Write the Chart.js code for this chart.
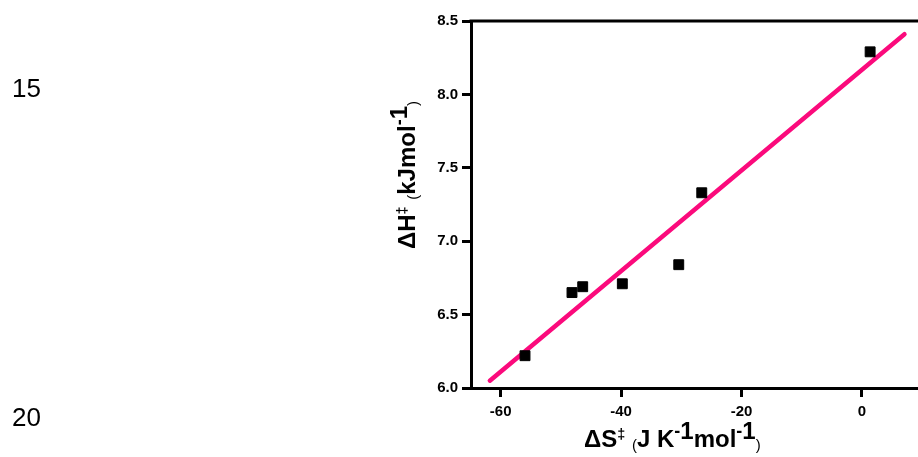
<!DOCTYPE html>
<html>
<head>
<meta charset="utf-8">
<script src="https://cdn.jsdelivr.net/npm/chart.js@4/dist/chart.umd.min.js"></script>
<style>
  html, body { margin:0; padding:0; background:#fff; }
  #wrap { position:relative; width:918px; height:457px; overflow:hidden; background:#fff; }
  #c { position:absolute; left:0; top:0; }
  .lnum { position:absolute; font-family:"Liberation Sans", Arial, sans-serif; font-size:26px; line-height:normal; color:#000; }
  .title { position:absolute; font-family:"Liberation Sans", Arial, sans-serif; font-weight:bold; font-size:24px; line-height:normal; color:#000; white-space:nowrap; }
  .dag { font-size:0.6em; position:relative; top:-0.55em; }
  .par { font-size:0.62em; font-weight:normal; position:relative; top:0.2em; }
  .mi { font-size:0.75em; position:relative; top:-0.55em; }
  .one { position:relative; top:-0.32em; }
  #yt { transform-origin:0 0; transform:rotate(-90deg); }
</style>
</head>
<body>
<div id="wrap">
  <canvas id="c" width="926" height="457"></canvas>
  <div class="lnum" style="left:12px; top:73px;">15</div>
  <div class="lnum" style="left:12px; top:402px;">20</div>
  <div class="title" id="xt" style="left:584px; top:425px;">ΔS<span class="dag">‡</span> <span class="par">(</span>J K<span class="mi">-</span><span class="one">1</span>mol<span class="mi">-</span><span class="one">1</span><span class="par">)</span></div>
  <div class="title" id="yt" style="left:393px; top:249px;">ΔH<span class="dag">‡</span> <span class="par">(</span>kJmol<span class="mi">-</span><span class="one">1</span><span class="par">)</span></div>
</div>
<script>
// ---- data ----
const entropyS  = [-55.96, -48.16, -46.38, -39.8, -30.43, -26.61, 1.35];   // ΔS‡ (J K-1 mol-1)
const enthalpyH = [6.22, 6.65, 6.69, 6.71, 6.84, 7.33, 8.29];              // ΔH‡ (kJ mol-1)
const fitS = [-61.8, 7.05];   // linear fit line ends (x)
const fitH = [6.05, 8.41];    // linear fit line ends (y)
const xTickValues = [-60, -40, -20, 0];
const yTickValues = [6.0, 6.5, 7.0, 7.5, 8.0, 8.5];

const pointsData = entropyS.map((s, i) => ({ x: s, y: enthalpyH[i] }));
const fitData = fitS.map((s, i) => ({ x: s, y: fitH[i] }));

const tickFont = { family: "'Liberation Sans', Arial, sans-serif", weight: 'bold', size: 15 };

const topBorder = {
  id: 'topBorder',
  afterDraw(chart) {
    const a = chart.chartArea, ctx = chart.ctx;
    ctx.save();
    ctx.strokeStyle = '#000';
    ctx.lineWidth = 3;
    ctx.beginPath();
    ctx.moveTo(a.left - 1.5, a.top);
    ctx.lineTo(chart.width, a.top);
    ctx.stroke();
    ctx.restore();
  }
};

new Chart(document.getElementById('c'), {
  type: 'scatter',
  data: {
    datasets: [
      {
        data: pointsData,
        pointStyle: 'rect',
        pointRadius: 7,
        pointBackgroundColor: '#000',
        pointBorderColor: '#000',
        pointBorderWidth: 1,
        showLine: false,
        order: 0
      },
      {
        data: fitData,
        showLine: true,
        borderColor: '#fb0a7c',
        borderWidth: 4.5,
        borderCapStyle: 'round',
        pointRadius: 0,
        order: 1
      }
    ]
  },
  options: {
    responsive: false,
    devicePixelRatio: 1,
    animation: false,
    layout: { padding: { left: 0, top: 21, right: 0, bottom: 0 } },
    plugins: { legend: { display: false }, tooltip: { enabled: false } },
    scales: {
      x: {
        type: 'linear',
        min: -64.93,
        max: 9.3,
        afterBuildTicks(scale) { scale.ticks = xTickValues.map(v => ({ value: v })); },
        afterFit(scale) { scale.height = 69; scale.paddingRight = 0; scale.paddingLeft = 0; },
        ticks: { color: '#000', font: tickFont, padding: 6, maxRotation: 0, callback: v => String(v) },
        grid: { display: true, drawOnChartArea: false, drawTicks: true, tickLength: 9, lineWidth: 3, color: '#000' },
        border: { display: true, width: 3, color: '#000' }
      },
      y: {
        type: 'linear',
        min: 6.0,
        max: 8.5,
        afterBuildTicks(scale) { scale.ticks = yTickValues.map(v => ({ value: v })); },
        afterFit(scale) { scale.width = 471; },
        ticks: { color: '#000', font: tickFont, padding: 4, callback: v => Number(v).toFixed(1) },
        grid: { display: true, drawOnChartArea: false, drawTicks: true, tickLength: 9, lineWidth: 3, color: '#000' },
        border: { display: true, width: 3, color: '#000' }
      }
    }
  },
  plugins: [topBorder]
});
</script>
</body>
</html>
